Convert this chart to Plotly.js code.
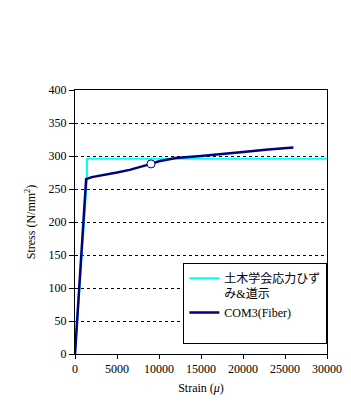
<!DOCTYPE html>
<html><head><meta charset="utf-8">
<script src="https://cdn.plot.ly/plotly-3.0.1.min.js"></script>
<style>html,body{margin:0;padding:0;background:#fff}#c{width:351px;height:407px}</style>
</head><body><div id="c"></div>
<script>
const jsceStrain = [0, 1430, 1430, 30700];
const jsceStress = [0, 268, 296, 296];
const comStrain = [0, 300, 700, 1000, 1325, 2000, 3500, 5000, 6500, 8000, 9050, 10000, 12000, 15000, 18000, 20000, 23000, 26000];
const comStress = [0, 60, 140, 200, 265, 268, 271, 275, 279, 284, 288, 292, 297, 300, 303, 306, 310, 313];
const markStrain = [9050];
const markStress = [288];
const xTicks = [0, 5000, 10000, 15000, 20000, 25000, 30000];
const yTicks = [0, 50, 100, 150, 200, 250, 300, 350, 400];
const names = ['土木学会応力ひず<br>み&道示', 'COM3(Fiber)<br> '];

const traces = [
  {x: jsceStrain, y: jsceStress, mode: 'lines', name: names[0], line: {color: '#00FFFF', width: 2}},
  {x: comStrain, y: comStress, mode: 'lines', name: names[1], line: {color: '#000080', width: 2.5}},
  {x: markStrain, y: markStress, mode: 'markers', showlegend: false,
   marker: {symbol: 'circle', size: 8, color: '#ffffff', line: {color: '#000080', width: 1}}}
];
const serif = 'Times New Roman, Liberation Serif, DejaVu Serif, serif';
const tickFont = {family: serif, size: 12, color: '#000'};
const layout = {
  width: 351, height: 407,
  margin: {l: 75, r: 24, t: 90, b: 53},
  paper_bgcolor: '#fff', plot_bgcolor: '#fff',
  font: tickFont,
  showlegend: true,
  xaxis: {
    range: [0, 30000], tickvals: xTicks, ticktext: xTicks.map(String),
    showgrid: false, zeroline: false, showline: true, linecolor: '#000', linewidth: 1, mirror: true,
    ticks: 'outside', ticklen: 4, tickcolor: '#000',
    tickfont: tickFont,
    title: {text: 'Strain (<i>μ</i>)', font: tickFont, standoff: 8}
  },
  yaxis: {
    range: [0, 400], tickvals: yTicks, ticktext: yTicks.map(String),
    showgrid: true, gridcolor: '#000', gridwidth: 1, griddash: '3px,3px',
    zeroline: false, showline: true, linecolor: '#000', linewidth: 1, mirror: true,
    ticks: 'outside', ticklen: 5, tickcolor: '#000',
    tickfont: tickFont,
    title: {text: 'Stress (N/mm<sup>2</sup>)', font: tickFont, standoff: 10}
  },
  legend: {
    x: 0.43, y: 0.345, xanchor: 'left', yanchor: 'top', valign: 'top',
    bgcolor: '#fff', bordercolor: '#000', borderwidth: 1,
    font: {family: 'Times New Roman, Liberation Serif, Noto Sans CJK JP, serif', size: 12, color: '#000'},
    tracegroupgap: 6, itemwidth: 30
  }
};
Plotly.newPlot('c', traces, layout, {displayModeBar: false, staticPlot: true});
</script>
</body></html>
